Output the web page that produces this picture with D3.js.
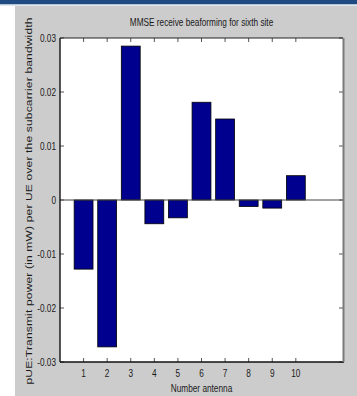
<!DOCTYPE html>
<html>
<head>
<meta charset="utf-8">
<script src="https://cdn.jsdelivr.net/npm/d3@7"></script>
<style>
  html, body { margin: 0; padding: 0; background: #ffffff; }
  svg { display: block; }
  text { font-family: "Liberation Sans", Arial, sans-serif; fill: #1a1a1a; }
</style>
</head>
<body>
<svg id="chart" width="357" height="396"></svg>
<script>
// Antenna index and per-antenna transmit power values
const antennas = [1, 2, 3, 4, 5, 6, 7, 8, 9, 10];
const power = [-0.0128, -0.0272, 0.0285, -0.0044, -0.0033, 0.0181, 0.0150, -0.0012, -0.0015, 0.0045];
const yTicks = [-0.03, -0.02, -0.01, 0, 0.01, 0.02, 0.03];
const yTickLabels = ["-0.03", "-0.02", "-0.01", "0", "0.01", "0.02", "0.03"];
const xTicks = [1, 2, 3, 4, 5, 6, 7, 8, 9, 10];
const titleText = "MMSE receive beaforming for sixth site";
const xLabelText = "Number antenna";
const yLabelText = "pUE:Transmit power (in mW) per UE over the subcarrier bandwidth";

const svg = d3.select("#chart");
const W = 357, H = 396;
const plot = { left: 60, right: 343, top: 38, bottom: 362 };
const squeeze = 0.75;  // narrow text rendering

// window frame: blue strip on top, grey figure panel
svg.append("rect").attr("x", 0).attr("y", 0).attr("width", W).attr("height", H).attr("fill", "#ffffff");
svg.append("rect").attr("x", 0).attr("y", 0).attr("width", W).attr("height", 4.5).attr("fill", "#1f4a82");
svg.append("rect").attr("x", 0).attr("y", 4.5).attr("width", W).attr("height", 1.5).attr("fill", "#dfe6ee");
svg.append("rect").attr("x", 15).attr("y", 6).attr("width", W - 15).attr("height", H - 6).attr("fill", "#cccccc");

const x = d3.scaleLinear().domain([0, 12]).range([plot.left, plot.right]);
const y = d3.scaleLinear().domain([-0.03, 0.03]).range([plot.bottom, plot.top]);

// axes area
svg.append("rect")
  .attr("x", plot.left).attr("y", plot.top)
  .attr("width", plot.right - plot.left).attr("height", plot.bottom - plot.top)
  .attr("fill", "#ffffff");

// bars (width 0.8 of unit spacing)
const barW = 0.8;
svg.append("g").selectAll("rect")
  .data(antennas.map((a, i) => ({ a, v: power[i] })))
  .join("rect")
  .attr("x", d => x(d.a - barW / 2))
  .attr("width", d => x(d.a + barW / 2) - x(d.a - barW / 2))
  .attr("y", d => Math.min(y(d.v), y(0)))
  .attr("height", d => Math.abs(y(d.v) - y(0)))
  .attr("fill", "#00008f")
  .attr("stroke", "#000000")
  .attr("stroke-width", 0.8);

// baseline at zero
svg.append("line")
  .attr("x1", plot.left).attr("x2", plot.right)
  .attr("y1", y(0)).attr("y2", y(0))
  .attr("stroke", "#444444").attr("stroke-width", 1);

// inward ticks on all four sides
const tickLen = 4;
const ticks = svg.append("g").attr("stroke", "#555555").attr("stroke-width", 1);
ticks.selectAll(".xb").data(xTicks).join("line")
  .attr("x1", d => x(d)).attr("x2", d => x(d))
  .attr("y1", plot.bottom).attr("y2", plot.bottom - tickLen);
ticks.selectAll(".xt").data(xTicks).join("line")
  .attr("x1", d => x(d)).attr("x2", d => x(d))
  .attr("y1", plot.top).attr("y2", plot.top + tickLen);
ticks.selectAll(".yl").data(yTicks).join("line")
  .attr("x1", plot.left).attr("x2", plot.left + tickLen)
  .attr("y1", d => y(d)).attr("y2", d => y(d));
ticks.selectAll(".yr").data(yTicks).join("line")
  .attr("x1", plot.right).attr("x2", plot.right - tickLen)
  .attr("y1", d => y(d)).attr("y2", d => y(d));

// axes box
svg.append("line").attr("x1", plot.left).attr("x2", plot.right).attr("y1", plot.top).attr("y2", plot.top)
  .attr("stroke", "#222222").attr("stroke-width", 1.2);
svg.append("line").attr("x1", plot.left).attr("x2", plot.left).attr("y1", plot.top).attr("y2", plot.bottom)
  .attr("stroke", "#111111").attr("stroke-width", 1.4);
svg.append("line").attr("x1", plot.left).attr("x2", plot.right + 1).attr("y1", plot.bottom).attr("y2", plot.bottom)
  .attr("stroke", "#111111").attr("stroke-width", 1.4);
svg.append("line").attr("x1", plot.right + 0.5).attr("x2", plot.right + 0.5).attr("y1", plot.top).attr("y2", plot.bottom)
  .attr("stroke", "#7a7a7a").attr("stroke-width", 2);

// narrow text helper
function label(tx, ty, str, anchor, size) {
  return svg.append("text")
    .attr("transform", `translate(${tx},${ty}) scale(${squeeze},1)`)
    .attr("text-anchor", anchor)
    .attr("font-size", size)
    .text(str);
}

// y tick labels
yTicks.forEach((t, i) => label(56, y(t) + 4, yTickLabels[i], "end", 11));
// x tick labels
xTicks.forEach(t => label(x(t), 377, String(t), "middle", 11));

// title and axis labels
label((plot.left + plot.right) / 2, 26, titleText, "middle", 11);
label((plot.left + plot.right) / 2, 392, xLabelText, "middle", 11);

svg.append("text")
  .attr("transform", `translate(31.5,201) scale(${squeeze},1) rotate(-90)`)
  .attr("text-anchor", "middle")
  .attr("font-size", 12)
  .attr("textLength", 367)
  .attr("lengthAdjust", "spacing")
  .text(yLabelText);
</script>
</body>
</html>
